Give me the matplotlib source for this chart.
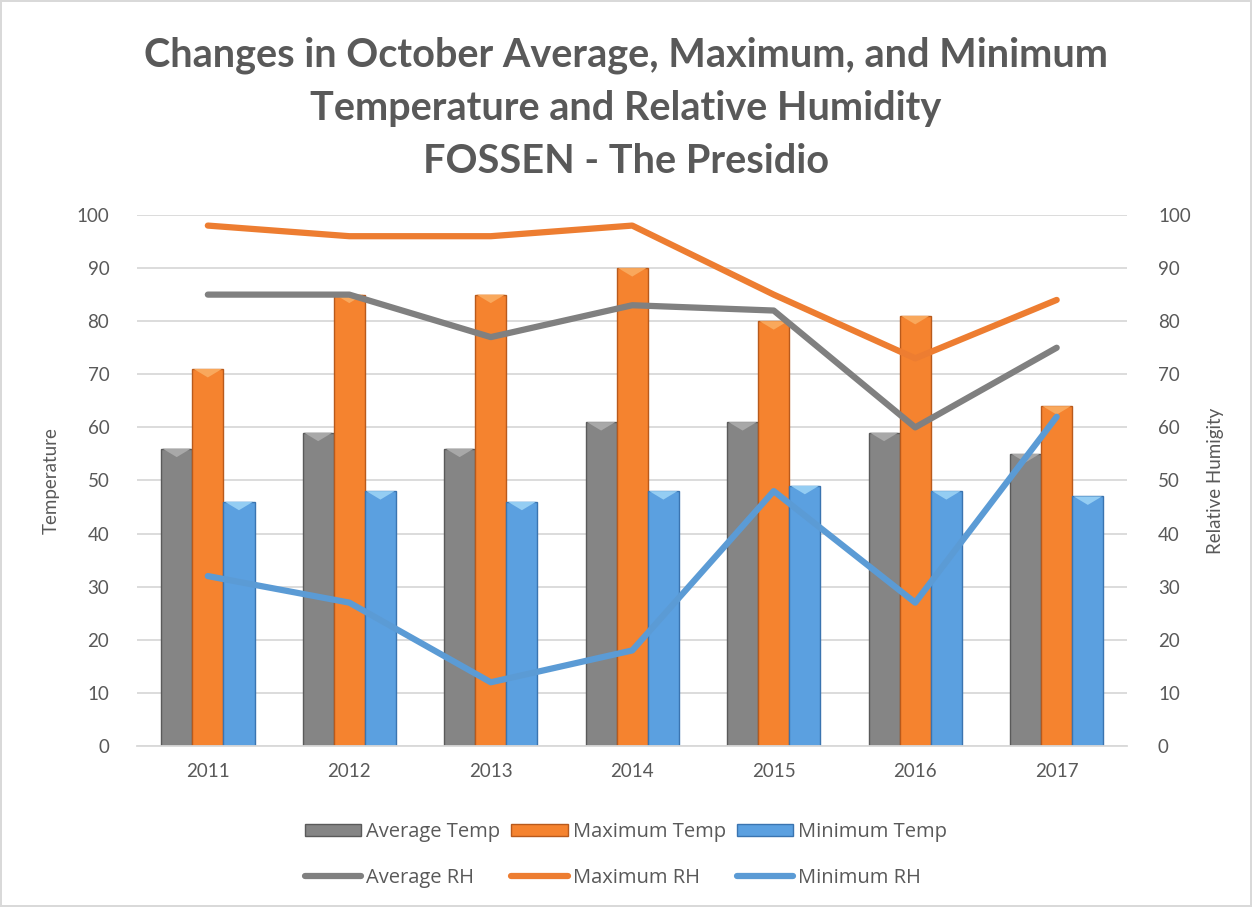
import matplotlib.pyplot as plt
from matplotlib.patches import Polygon
import numpy as np

years = ['2011', '2012', '2013', '2014', '2015', '2016', '2017']
avg_temp = [56, 59, 56, 61, 61, 59, 55]
max_temp = [71, 85, 85, 90, 80, 81, 64]
min_temp = [46, 48, 46, 48, 49, 48, 47]
avg_rh = [85, 85, 77, 83, 82, 60, 75]
max_rh = [98, 96, 96, 98, 85, 73, 84]
min_rh = [32, 27, 12, 18, 48, 27, 62]

text_col = '#595959'
plt.rcParams['font.family'] = ['Lato', 'DejaVu Sans']

fig = plt.figure(figsize=(12.52, 9.07), dpi=100)
fig.patch.set_edgecolor('#d9d9d9')
fig.patch.set_linewidth(1.5)
ax = fig.add_axes([0.1095, 0.1775, 0.791, 0.5855])

x = np.arange(len(years))
w = 0.22
bar_styles = [
    (avg_temp, -w, '#858585', '#5a5a5a', '#a8a8a8', 'Average Temp'),
    (max_temp, 0, '#f5832f', '#b85a1c', '#f9a85c', 'Maximum Temp'),
    (min_temp, w, '#5ba0e0', '#3a74b0', '#94cdf3', 'Minimum Temp'),
]
bar_handles = []
for vals, off, col, edge, light, lab in bar_styles:
    bars = ax.bar(x + off, vals, w, color=col, edgecolor=edge, linewidth=1.0, label=lab, zorder=2)
    bar_handles.append(bars)
    # light bevel at top of each bar
    for r in bars:
        x0, x1 = r.get_x(), r.get_x() + r.get_width()
        top = r.get_height()
        tri = Polygon([[x0 + 0.01, top], [x1 - 0.01, top], [(x0 + x1) / 2, top - 1.6]],
                      closed=True, facecolor=light, edgecolor='none', zorder=3)
        ax.add_patch(tri)

ax.set_xlim(-0.5, len(years) - 0.5)
ax.set_ylim(0, 100)
ax.set_yticks(range(0, 101, 10))
ax.set_xticks(x)
ax.set_xticklabels(years)
ax.grid(axis='y', color='#d9d9d9', linewidth=1.3, zorder=0)
ax.set_axisbelow(True)
for s in ['top', 'left', 'right']:
    ax.spines[s].set_visible(False)
ax.spines['bottom'].set_color('#d9d9d9')
ax.spines['bottom'].set_linewidth(1.3)
ax.tick_params(length=0, labelsize=13.5, labelcolor=text_col)
ax.tick_params(axis='y', pad=20)
ax.tick_params(axis='x', pad=12)
ax.set_ylabel('Temperature', fontsize=13.5, color=text_col, labelpad=12)

ax2 = ax.twinx()
l1, = ax2.plot(x, avg_rh, color='#808080', lw=4.5, solid_capstyle='round', label='Average RH')
l2, = ax2.plot(x, max_rh, color='#ed7d31', lw=4.5, solid_capstyle='round', label='Maximum RH')
l3, = ax2.plot(x, min_rh, color='#5b9bd5', lw=4.5, solid_capstyle='round', label='Minimum RH')
ax2.set_ylim(0, 100)
ax2.set_yticks(range(0, 101, 10))
for s in ax2.spines.values():
    s.set_visible(False)
ax2.tick_params(length=0, labelsize=13.5, labelcolor=text_col, pad=22)
ax2.set_ylabel('Relative Humigity', fontsize=13.5, color=text_col, labelpad=12)

fig.suptitle('Changes in October Average, Maximum, and Minimum\nTemperature and Relative Humidity\nFOSSEN - The Presidio',
             y=0.96, fontsize=28.5, fontweight='bold', color=text_col, linespacing=1.53)

handles = [bar_handles[0], l1, bar_handles[1], l2, bar_handles[2], l3]
labels = ['Average Temp', 'Average RH', 'Maximum Temp', 'Maximum RH', 'Minimum Temp', 'Minimum RH']
fig.legend(handles, labels,
           loc='lower center', bbox_to_anchor=(0.5, 0.0015), ncol=3, frameon=False,
           prop={'family': ['Open Sans', 'DejaVu Sans'], 'size': 14.5}, labelcolor=text_col,
           handlelength=2.8, handleheight=0.55,
           columnspacing=0.55, handletextpad=0.25, labelspacing=1.25)

fig.savefig('out.png', dpi=100, facecolor='white', edgecolor=fig.get_edgecolor())
